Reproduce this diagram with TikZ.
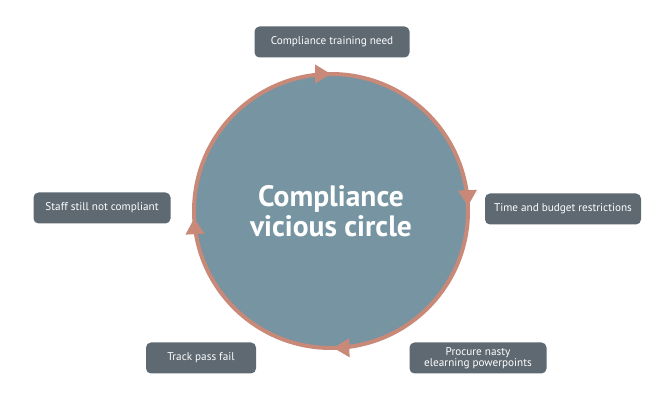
\documentclass[tikz,border=0pt]{standalone}
\usepackage{fontspec}
\setmainfont{PT Sans}
\usetikzlibrary{arrows.meta}
\definecolor{boxfill}{RGB}{94,105,114}
\definecolor{circfill}{RGB}{118,148,161}
\definecolor{ringcol}{RGB}{200,137,120}
\tikzset{
  stage/.style={fill=boxfill, rounded corners=5pt, text=white, font=\fontsize{11.2}{12.5}\selectfont,
    minimum height=31pt, inner sep=0pt, align=center},
  cyclearrow/.style={ringcol, line width=4pt, -{Triangle[length=16pt,width=18pt]}}
}
\begin{document}
\begin{tikzpicture}[x=1pt,y=1pt]
\useasboundingbox (0,0) rectangle (670,415);
\node[circle, minimum size=274pt, inner sep=0pt, fill=circfill, draw=ringcol, line width=4pt,
  text=white, font=\bfseries\fontsize{29.5}{30}\selectfont, align=center] (circ) at (331,204)
  {Compliance\\vicious circle};
\draw[cyclearrow] (circ.center) ++(97:137) arc[start angle=97, end angle=90, radius=137];
\draw[cyclearrow] (circ.center) ++(9:137) arc[start angle=9, end angle=2, radius=137];
\draw[cyclearrow] (circ.center) ++(-82:137) arc[start angle=-82, end angle=-89, radius=137];
\draw[cyclearrow] (circ.center) ++(190:137) arc[start angle=190, end angle=183, radius=137];
\node[stage, minimum width=155pt] (need) at (332,373) {Compliance training need};
\node[stage, minimum width=156pt] (time) at (563,206) {Time and budget restrictions};
\node[stage, minimum width=137pt] (procure) at (478,57) {Procure nasty\\[-2pt]elearning powerpoints};
\node[stage, minimum width=110pt] (track) at (201,57) {Track pass fail};
\node[stage, minimum width=137pt] (staff) at (102,207) {Staff still not compliant};
\end{tikzpicture}
\end{document}
